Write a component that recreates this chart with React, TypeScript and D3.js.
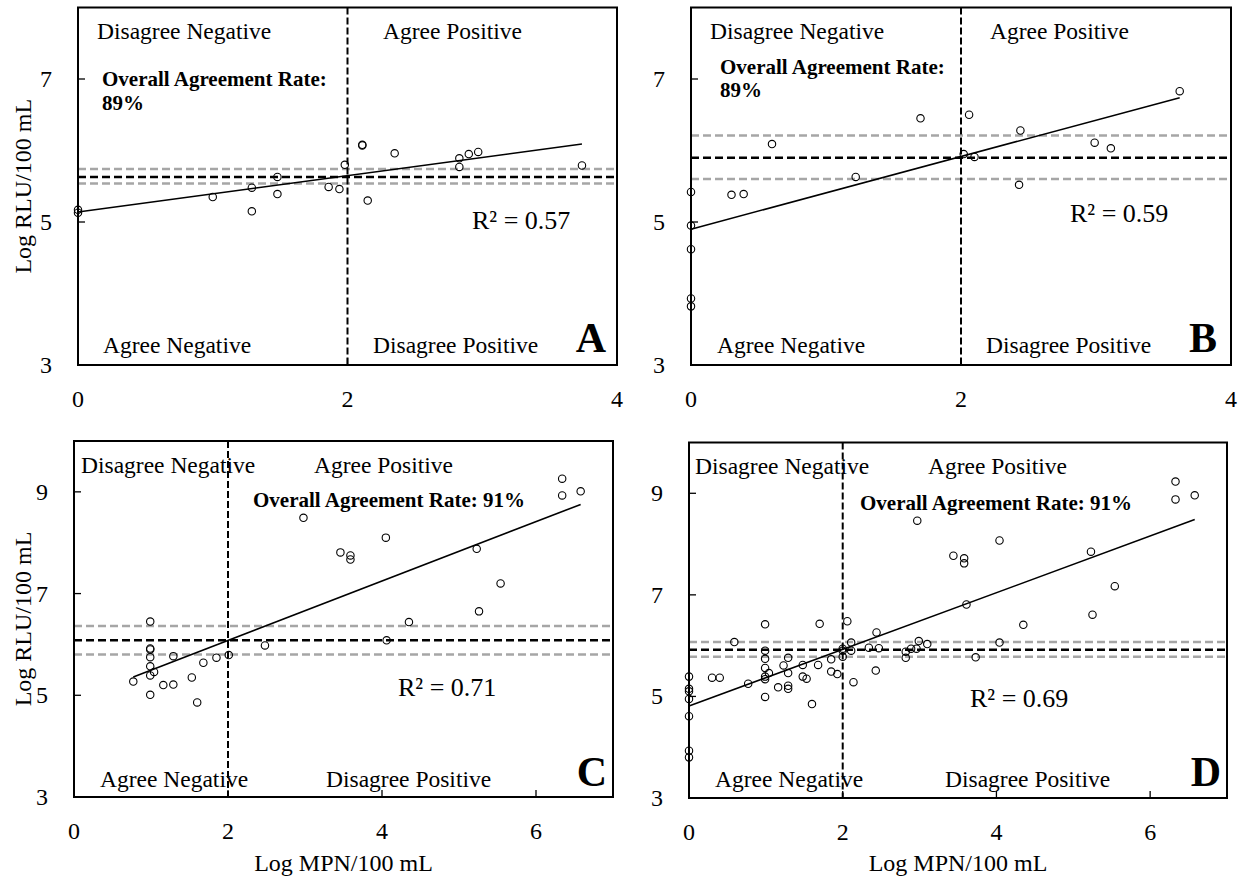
import React from "react";
import * as d3 from "d3";

// ---------- DATA ----------
const aX = [0, 0, 1.0, 1.29, 1.29, 1.48, 1.48, 1.86, 1.94, 1.98, 2.11, 2.11, 2.15, 2.35, 2.83, 2.83, 2.9, 2.97, 3.74];
const aY = [5.17, 5.13, 5.35, 5.48, 5.15, 5.63, 5.39, 5.49, 5.46, 5.8, 6.07, 6.08, 5.3, 5.96, 5.89, 5.77, 5.95, 5.98, 5.79];

const bX = [0, 0, 0, 0, 0, 0.3, 0.39, 0.6, 1.22, 1.7, 2.06, 2.02, 2.1, 2.44, 2.43, 2.99, 3.11, 3.62];
const bY = [5.42, 4.95, 4.62, 3.93, 3.82, 5.38, 5.39, 6.09, 5.63, 6.45, 6.5, 5.95, 5.91, 6.28, 5.52, 6.11, 6.03, 6.83];

const cX = [0.99, 0.99, 0.99, 0.99, 0.99, 0.99, 1.04, 0.99, 0.77, 1.16, 1.29, 1.29, 1.53, 1.6, 1.68, 1.85, 2.01, 2.48, 2.98, 3.46, 3.59, 3.59, 4.05, 4.06, 4.35, 5.23, 5.26, 5.54, 6.34, 6.34, 6.58];
const cY = [6.45, 5.92, 5.9, 5.75, 5.57, 5.39, 5.46, 5.01, 5.27, 5.2, 5.21, 5.77, 5.35, 4.86, 5.64, 5.74, 5.79, 5.98, 8.49, 7.81, 7.75, 7.67, 8.1, 6.08, 6.44, 7.88, 6.65, 7.2, 9.26, 8.93, 9.01];

const dX = [0, 0, 0, 0, 0, 0, 0, 0.3, 0.4, 0.59, 0.77, 0.99, 0.99, 0.99, 0.99, 0.99, 0.99, 0.99, 1.04, 1.16, 1.23, 1.29, 1.29, 1.29, 1.29, 1.48, 1.48, 1.53, 1.6, 1.7, 1.68, 1.85, 1.85, 1.93, 2.0, 2.0, 2.0, 2.06, 2.11, 2.11, 2.14, 2.34, 2.44, 2.47, 2.43, 2.82, 2.82, 2.89, 2.99, 2.96, 3.1, 2.97, 3.44, 3.58, 3.58, 3.61, 4.04, 4.04, 3.73, 4.35, 5.23, 5.25, 5.54, 6.33, 6.33, 6.58];
const dY = [5.39, 5.15, 5.1, 4.95, 4.61, 3.93, 3.8, 5.37, 5.37, 6.07, 5.25, 6.42, 5.9, 5.74, 5.56, 5.39, 5.34, 4.99, 5.46, 5.18, 5.61, 5.76, 5.46, 5.21, 5.15, 5.62, 5.39, 5.35, 4.85, 6.43, 5.62, 5.73, 5.49, 5.44, 5.78, 5.9, 5.94, 6.48, 6.06, 5.9, 5.28, 5.96, 6.26, 5.95, 5.51, 5.76, 5.88, 5.94, 6.09, 5.94, 6.03, 8.46, 7.77, 7.72, 7.62, 6.81, 8.07, 6.06, 5.77, 6.41, 7.85, 6.61, 7.17, 9.23, 8.88, 8.96];

// threshold lines: [lower grey, black, upper grey]
const aThresh = [5.54, 5.63, 5.74];
const bThresh = [5.6, 5.9, 6.21];
const cThresh = [5.8, 6.08, 6.36];
const dThresh = [5.78, 5.92, 6.07];

// trendline: [intercept, slope]
const aTrend = [5.14, 0.254];
const bTrend = [4.9, 0.508];
const cTrend = [4.91, 0.584];
const dTrend = [4.81, 0.558];

const r2Labels = ["R² = 0.57", "R² = 0.59", "R² = 0.71", "R² = 0.69"];
const agreeLabels = ["89%", "89%", "91%", "91%"];
const panelLetters = ["A", "B", "C", "D"];
const topXTicks = [0, 2, 4];
const bottomXTicks = [0, 2, 4, 6];
const topYTicks = [3, 5, 7];
const bottomYTicks = [3, 5, 7, 9];
const xCut = 2;

const FONT = "'Liberation Serif', 'Times New Roman', serif";

type Lbl = { t: string; x: number; cy: number; size: number; bold?: boolean; anchor?: string };

type PanelCfg = {
  left: number; right: number; top: number; bottom: number;
  xMax: number; yMin: number; yMax: number;
  xTicks: number[]; yTicks: number[];
  xs: number[]; ys: number[]; thresh: number[]; trend: number[];
  labels: Lbl[];
  yTitle: boolean; xTitle: boolean;
};

const QS = 23.5;
const BS = 21;
const RS = 26;
const LS = 42;

const panels: PanelCfg[] = [
  {
    left: 78, right: 617, top: 7.5, bottom: 365, xMax: 4, yMin: 3, yMax: 8,
    xTicks: topXTicks, yTicks: topYTicks, xs: aX, ys: aY, thresh: aThresh, trend: aTrend,
    yTitle: true, xTitle: false,
    labels: [
      { t: "Disagree Negative", x: 97, cy: 31, size: QS },
      { t: "Agree Positive", x: 383, cy: 31, size: QS },
      { t: "Overall Agreement Rate:", x: 102, cy: 79, size: BS, bold: true },
      { t: agreeLabels[0], x: 102, cy: 103, size: BS, bold: true },
      { t: r2Labels[0], x: 472, cy: 220, size: RS },
      { t: "Agree Negative", x: 103, cy: 345, size: QS },
      { t: "Disagree Positive", x: 373, cy: 345, size: QS },
      { t: panelLetters[0], x: 606, cy: 338, size: LS, bold: true, anchor: "end" },
    ],
  },
  {
    left: 691, right: 1231, top: 7.5, bottom: 365, xMax: 4, yMin: 3, yMax: 8,
    xTicks: topXTicks, yTicks: topYTicks, xs: bX, ys: bY, thresh: bThresh, trend: bTrend,
    yTitle: false, xTitle: false,
    labels: [
      { t: "Disagree Negative", x: 710, cy: 31, size: QS },
      { t: "Agree Positive", x: 990, cy: 31, size: QS },
      { t: "Overall Agreement Rate:", x: 720, cy: 67, size: BS, bold: true },
      { t: agreeLabels[1], x: 720, cy: 90, size: BS, bold: true },
      { t: r2Labels[1], x: 1070, cy: 213, size: RS },
      { t: "Agree Negative", x: 717, cy: 345, size: QS },
      { t: "Disagree Positive", x: 986, cy: 345, size: QS },
      { t: panelLetters[1], x: 1217, cy: 338, size: LS, bold: true, anchor: "end" },
    ],
  },
  {
    left: 74, right: 613, top: 441, bottom: 797, xMax: 7, yMin: 3, yMax: 10,
    xTicks: bottomXTicks, yTicks: bottomYTicks, xs: cX, ys: cY, thresh: cThresh, trend: cTrend,
    yTitle: true, xTitle: true,
    labels: [
      { t: "Disagree Negative", x: 81, cy: 465, size: QS },
      { t: "Agree Positive", x: 314, cy: 465, size: QS },
      { t: "Overall Agreement Rate: " + agreeLabels[2], x: 253, cy: 500, size: BS, bold: true },
      { t: r2Labels[2], x: 398, cy: 687, size: RS },
      { t: "Agree Negative", x: 100, cy: 779, size: QS },
      { t: "Disagree Positive", x: 326, cy: 779, size: QS },
      { t: panelLetters[2], x: 607, cy: 772, size: LS, bold: true, anchor: "end" },
    ],
  },
  {
    left: 689, right: 1227, top: 442.5, bottom: 798, xMax: 7, yMin: 3, yMax: 10,
    xTicks: bottomXTicks, yTicks: bottomYTicks, xs: dX, ys: dY, thresh: dThresh, trend: dTrend,
    yTitle: false, xTitle: true,
    labels: [
      { t: "Disagree Negative", x: 695, cy: 466, size: QS },
      { t: "Agree Positive", x: 928, cy: 466, size: QS },
      { t: "Overall Agreement Rate: " + agreeLabels[3], x: 860, cy: 503, size: BS, bold: true },
      { t: r2Labels[3], x: 970, cy: 698, size: RS },
      { t: "Agree Negative", x: 715, cy: 779, size: QS },
      { t: "Disagree Positive", x: 945, cy: 779, size: QS },
      { t: panelLetters[3], x: 1221, cy: 772, size: LS, bold: true, anchor: "end" },
    ],
  },
];

function Panel({ p }: { p: PanelCfg }) {
  const x = d3.scaleLinear().domain([0, p.xMax]).range([p.left, p.right]);
  const y = d3.scaleLinear().domain([p.yMin, p.yMax]).range([p.bottom, p.top]);
  const xMin = d3.min(p.xs) as number;
  const xMaxD = d3.max(p.xs) as number;
  const f = (v: number) => p.trend[0] + p.trend[1] * v;
  const trendPath = d3.line<number>().x((v) => x(v)).y((v) => y(f(v)))([xMin, xMaxD]) || "";
  const midY = (p.top + p.bottom) / 2;
  const midX = (p.left + p.right) / 2;
  return (
    <g>
      {/* threshold lines */}
      <line x1={p.left} x2={p.right} y1={y(p.thresh[0])} y2={y(p.thresh[0])} stroke="#a6a6a6" strokeWidth={2.5} strokeDasharray="8,4" />
      <line x1={p.left} x2={p.right} y1={y(p.thresh[2])} y2={y(p.thresh[2])} stroke="#a6a6a6" strokeWidth={2.5} strokeDasharray="8,4" />
      <line x1={p.left} x2={p.right} y1={y(p.thresh[1])} y2={y(p.thresh[1])} stroke="#000" strokeWidth={2.5} strokeDasharray="8,4" />
      {/* vertical cut */}
      <line x1={x(xCut)} x2={x(xCut)} y1={p.top} y2={p.bottom} stroke="#000" strokeWidth={2} strokeDasharray="7,3" />
      {/* trend */}
      <path d={trendPath} stroke="#000" strokeWidth={1.6} fill="none" />
      {/* points */}
      {p.xs.map((v, i) => (
        <circle key={i} cx={x(v)} cy={y(p.ys[i])} r={3.7} fill="none" stroke="#000" strokeWidth={1.1} />
      ))}
      {/* frame */}
      <rect x={p.left} y={p.top} width={p.right - p.left} height={p.bottom - p.top} fill="none" stroke="#000" strokeWidth={2} />
      {/* ticks */}
      {p.yTicks.filter((t) => t > p.yMin).map((t) => (
        <line key={"yt" + t} x1={p.left} x2={p.left + 7} y1={y(t)} y2={y(t)} stroke="#000" strokeWidth={1.3} />
      ))}
      {p.xTicks.filter((t) => t > 0).map((t) => (
        <line key={"xt" + t} x1={x(t)} x2={x(t)} y1={p.bottom} y2={p.bottom - 7} stroke="#000" strokeWidth={1.3} />
      ))}
      {/* tick labels */}
      {p.yTicks.map((t) => (
        <text key={"yl" + t} x={p.left - 26} y={y(t)} dominantBaseline="central" textAnchor="end" fontSize={24} fontFamily={FONT}>{t}</text>
      ))}
      {p.xTicks.map((t) => (
        <text key={"xl" + t} x={x(t)} y={p.bottom + 34} dominantBaseline="central" textAnchor="middle" fontSize={24} fontFamily={FONT}>{t}</text>
      ))}
      {/* labels */}
      {p.labels.map((l, i) => (
        <text key={"l" + i} x={l.x} y={l.cy} dominantBaseline="central" textAnchor={l.anchor || "start"} fontSize={l.size} fontWeight={l.bold ? "bold" : "normal"} fontFamily={FONT}>{l.t}</text>
      ))}
      {p.yTitle && (
        <text transform={`translate(23,${midY}) rotate(-90)`} textAnchor="middle" dominantBaseline="central" fontSize={24} fontFamily={FONT}>Log RLU/100 mL</text>
      )}
      {p.xTitle && (
        <text x={midX} y={863} textAnchor="middle" dominantBaseline="central" fontSize={24} fontFamily={FONT}>Log MPN/100 mL</text>
      )}
    </g>
  );
}

export default function App() {
  return (
    <svg width={1248} height={880} style={{ position: "absolute", left: 0, top: 0, background: "#fff" }}>
      <rect width={1248} height={880} fill="#fff" />
      {panels.map((p, i) => (
        <Panel key={i} p={p} />
      ))}
    </svg>
  );
}
